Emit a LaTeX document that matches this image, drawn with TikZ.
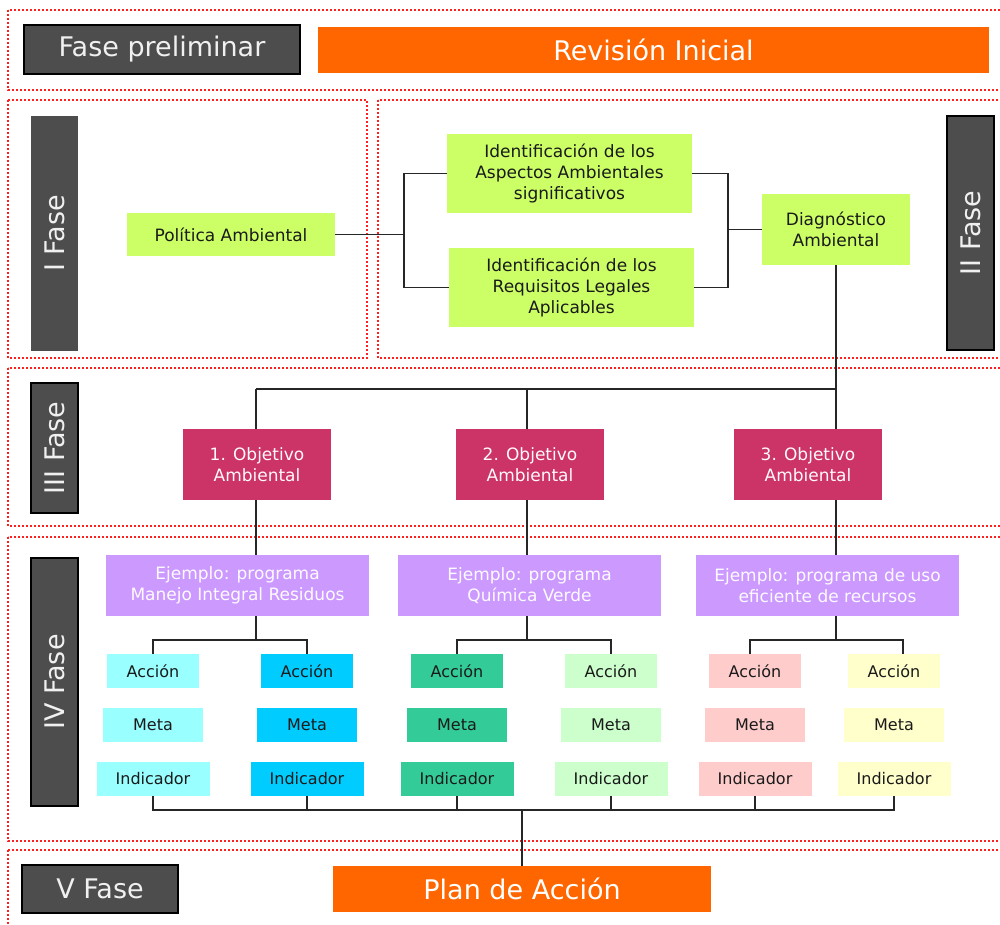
\documentclass[tikz,border=0pt]{standalone}
\usepackage{fontspec}
\setmainfont{DejaVu Sans}
\definecolor{phasegrey}{HTML}{4D4D4D}
\definecolor{orangefill}{HTML}{FF6600}
\definecolor{limefill}{HTML}{CCFF66}
\definecolor{crimsonfill}{HTML}{CC3366}
\definecolor{lilacfill}{HTML}{CC99FF}
\definecolor{colA}{HTML}{99FFFF}
\definecolor{colB}{HTML}{00CCFF}
\definecolor{colC}{HTML}{33CC99}
\definecolor{colD}{HTML}{CCFFCC}
\definecolor{colE}{HTML}{FFCCCC}
\definecolor{colF}{HTML}{FFFFCC}
\definecolor{inkdark}{HTML}{1A1A1A}
\definecolor{framered}{HTML}{FF2020}
\pgfdeclarelayer{bg}
\pgfsetlayers{bg,main}
\begin{document}
\begin{tikzpicture}[x=1pt,y=-1pt,
  frame/.style={draw=framered, line width=1.6pt, dash pattern=on 1.6pt off 2.4pt},
  conn/.style={draw=black!85, line width=1.6pt},
  phase/.style={fill=phasegrey, draw=black, line width=1.2pt, text=white!94!black,
    inner sep=0pt, font=\fontsize{27}{32}\selectfont},
  orangebox/.style={fill=orangefill, text=white, inner sep=0pt,
    font=\fontsize{27}{32}\selectfont},
  limebox/.style={fill=limefill, text=inkdark, inner sep=0pt, align=center,
    font=\fontsize{17}{21}\selectfont},
  goalbox/.style={fill=crimsonfill, text=white!92!pink, inner sep=0pt, align=center,
    minimum width=148pt, minimum height=71pt, font=\fontsize{17}{21}\selectfont},
  progbox/.style={fill=lilacfill, text=white!96!lilacfill, inner sep=0pt, align=center,
    minimum width=263pt, minimum height=61pt, font=\fontsize{17}{20.5}\selectfont},
  leaf/.style={inner sep=0pt, text=inkdark, minimum height=34pt,
    font=\fontsize{16}{19}\selectfont}
]
\useasboundingbox (0,0) rectangle (1000,924);

% ---- phase labels and banners ----
\node[phase, minimum width=276pt, minimum height=49pt] (pre) at (162,49.5) {Fase preliminar};
\node[orangebox, minimum width=671pt, minimum height=46pt] (rev) at (653.5,50) {Revisión Inicial};
\node[phase, draw=none, rotate=90, minimum width=235pt, minimum height=47pt] (f1) at (54.5,233.5) {I Fase};
\node[phase, rotate=90, minimum width=234pt, minimum height=47pt] (f2) at (970.5,233) {II Fase};
\node[phase, rotate=90, minimum width=130pt, minimum height=47pt] (f3) at (54.5,448) {III Fase};
\node[phase, rotate=90, minimum width=248pt, minimum height=47pt] (f4) at (54.5,682) {IV Fase};
\node[phase, minimum width=156pt, minimum height=48pt] (f5) at (100,889) {V Fase};
\node[orangebox, minimum width=378pt, minimum height=46pt] (plan) at (522,889) {Plan de Acción};

% ---- phases I and II ----
\node[limebox, minimum width=208pt, minimum height=43pt] (pol) at (231,234.5) {Política Ambiental};
\node[limebox, minimum width=245pt, minimum height=79pt] (asp) at (569.5,173.5)
  {Identificación de los\\Aspectos Ambientales\\significativos};
\node[limebox, minimum width=245pt, minimum height=79pt] (req) at (571.5,287.5)
  {Identificación de los\\Requisitos Legales\\Aplicables};
\node[limebox, minimum width=148pt, minimum height=71pt] (diag) at (836,229.5)
  {Diagnóstico\\Ambiental};

% ---- phase III ----
\node[goalbox] (obj1) at (257,464.5) {1. Objetivo\\Ambiental};
\node[goalbox] (obj2) at (530,464.5) {2. Objetivo\\Ambiental};
\node[goalbox] (obj3) at (808,464.5) {3. Objetivo\\Ambiental};

% ---- phase IV ----
\node[progbox] (ej1) at (237.5,585.5) {Ejemplo: programa\\Manejo Integral Residuos};
\node[progbox] (ej2) at (529.5,585.5) {Ejemplo: programa\\Química Verde};
\node[progbox] (ej3) at (827.5,585.5) {Ejemplo: programa de uso\\eficiente de recursos};

\foreach \k/\x/\c in {1/153/colA, 2/307/colB, 3/457/colC, 4/611/colD, 5/755/colE, 6/894/colF} {
  \node[leaf, fill=\c, minimum width=92pt]  (a\k) at (\x,671) {Acción};
  \node[leaf, fill=\c, minimum width=100pt] (m\k) at (\x,725) {Meta};
  \node[leaf, fill=\c, minimum width=113pt] (i\k) at (\x,779) {Indicador};
}

% ---- junction points ----
\coordinate (j1) at (404,234.5);
\coordinate (j2) at (728,229.5);
\coordinate (h1) at (256,389);
\coordinate (h2) at (527,389);
\coordinate (g1) at (256,640);
\coordinate (g2) at (527,640);
\coordinate (g3) at (836,640);
\coordinate (bb) at (522,810);

\begin{pgfonlayer}{bg}
  % dotted phase frames
  \draw[frame] (8,10) rectangle (1012,90);
  \draw[frame] (8,100) rectangle (367,358);
  \draw[frame] (378,100) rectangle (1012,358);
  \draw[frame] (8,368) rectangle (1012,526);
  \draw[frame] (8,537) rectangle (1012,841);
  \draw[frame] (8,850) rectangle (1012,935);

  % phase I to II
  \draw[conn] (pol.east) -- (j1);
  \draw[conn] (asp.west) -| (j1);
  \draw[conn] (req.west) -| (j1);
  \draw[conn] (asp.east) -| (j2);
  \draw[conn] (req.east) -| (j2);
  \draw[conn] (j2) -- (diag.west);

  % diagnosis to objectives and programmes
  \draw[conn] (diag.south) |- (h1);
  \draw[conn] (h1) -- (obj1.north -| h1);
  \draw[conn] (h2) -- (obj2.north -| h2);
  \draw[conn] (diag.south) -- (obj3.north -| g3);
  \draw[conn] (obj1.south -| h1) -- (ej1.north -| h1);
  \draw[conn] (obj2.south -| h2) -- (ej2.north -| h2);
  \draw[conn] (obj3.south -| g3) -- (ej3.north -| g3);
  \draw[conn] (ej1.south -| g1) -- (g1);
  \draw[conn] (ej2.south -| g2) -- (g2);
  \draw[conn] (ej3.south -| g3) -- (g3);

  % programme brackets
  \draw[conn] (a1.north) |- (g1) -| (a2.north);
  \draw[conn] (a3.north) |- (g2) -| (a4.north);
  \draw[conn] ([xshift=-5pt]a5.north) |- (g3) -| ([xshift=9pt]a6.north);

  % indicators to the action plan
  \foreach \k in {1,...,6} { \draw[conn] (i\k.south) |- (bb); }
  \draw[conn] (bb) -- (plan.north);
\end{pgfonlayer}
\end{tikzpicture}
\end{document}
